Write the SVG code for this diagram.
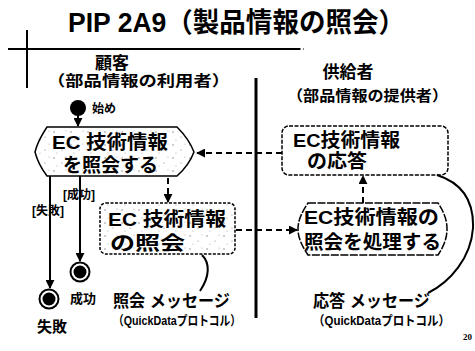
<svg xmlns="http://www.w3.org/2000/svg" width="475" height="351" viewBox="0 0 475 351">
<defs>
<pattern id="speckle" width="17" height="13" patternUnits="userSpaceOnUse">
<rect width="17" height="13" fill="#fff"/>
<circle cx="3" cy="2" r="0.7" fill="#777"/>
<circle cx="11" cy="7" r="0.6" fill="#888"/>
<circle cx="6" cy="10" r="0.5" fill="#999"/>
<circle cx="15" cy="1" r="0.5" fill="#999"/>
</pattern>
<marker id="ah" viewBox="0 0 10 10" refX="9" refY="5" markerWidth="4.5" markerHeight="4.5" orient="auto" markerUnits="strokeWidth">
<path d="M0,0 L10,5 L0,10 Z" fill="#000"/>
</marker>
</defs>
<style>
text{font-family:"Liberation Sans","Noto Sans CJK JP",sans-serif;font-weight:bold;fill:#000}
.dash{fill:none;stroke:#000;stroke-width:2;stroke-dasharray:6 4}
.solid{fill:none;stroke:#000;stroke-width:2}
.node{stroke:#000;stroke-width:1.5}
.t18{font-size:19px}
.t17{font-size:17px}
.t15{font-size:15px}
.t13{font-size:13px}
.t12{font-size:12px}
</style>
<rect width="475" height="351" fill="#fff"/>

<text x="68" y="32" font-size="27" textLength="337" lengthAdjust="spacingAndGlyphs">PIP 2A9（製品情報の照会）</text>
<line x1="8" y1="49" x2="300" y2="49" stroke="#000" stroke-width="2"/>
<line x1="300" y1="49" x2="306" y2="49" stroke="#000" stroke-width="1" stroke-dasharray="1 2"/>
<line x1="27" y1="30" x2="27" y2="88" stroke="#000" stroke-width="2"/>
<line x1="256" y1="78" x2="256" y2="318" stroke="#000" stroke-width="3"/>

<text x="112" y="69" class="t17" text-anchor="middle">顧客</text>
<text x="47" y="86" class="t15" textLength="183" lengthAdjust="spacingAndGlyphs">（部品情報の利用者）</text>
<text x="348" y="78" class="t17" text-anchor="middle">供給者</text>
<text x="287" y="101" class="t15" textLength="161" lengthAdjust="spacingAndGlyphs">（部品情報の提供者）</text>

<g id="start">
<circle cx="78" cy="108" r="8" fill="#000"/>
<text x="92" y="113" class="t12">始め</text>
</g>

<g id="n1">
<path class="node" fill="url(#speckle)" d="M47,127 H177 C186,136 191,144 194,152 C191,160 186,168 177,176 H47 C41,168 37,160 35,152 C37,144 41,136 47,127 Z"/>
<text x="52" y="149" class="t18" textLength="116" lengthAdjust="spacingAndGlyphs">EC 技術情報</text>
<text x="63" y="172" class="t18" textLength="95" lengthAdjust="spacingAndGlyphs">を照会する</text>
</g>

<g id="n2">
<rect class="node" x="100" y="203" width="135" height="51" rx="6" fill="url(#speckle)" stroke-dasharray="3 1.5"/>
<text x="108" y="226" class="t18" textLength="118" lengthAdjust="spacingAndGlyphs">EC 技術情報</text>
<text x="110" y="250" class="t18" textLength="75" lengthAdjust="spacingAndGlyphs">の照会</text>
</g>

<g id="n3">
<rect class="node" x="282" y="126" width="166" height="49" rx="7" fill="#fff" stroke-dasharray="4 1.5"/>
<text x="293" y="147" class="t18" textLength="107" lengthAdjust="spacingAndGlyphs">EC技術情報</text>
<text x="307" y="168" class="t18" textLength="60" lengthAdjust="spacingAndGlyphs">の応答</text>
</g>

<g id="n4">
<path class="node" fill="#fff" stroke-dasharray="8 1.5" d="M308,203 H438 C444,212 447,220 447,229 C447,238 444,246 438,255 H308 C302,246 298,238 298,229 C298,220 302,212 308,203 Z"/>
<text x="304" y="224" class="t18" textLength="135" lengthAdjust="spacingAndGlyphs">EC技術情報の</text>
<text x="304" y="249" class="t18" textLength="137" lengthAdjust="spacingAndGlyphs">照会を処理する</text>
</g>

<g id="success">
<circle cx="80" cy="272" r="9.5" fill="#fff" stroke="#000" stroke-width="2"/>
<circle cx="80" cy="272" r="6.5" fill="#000"/>
</g>
<g id="failure">
<circle cx="49" cy="299" r="9.5" fill="#fff" stroke="#000" stroke-width="2"/>
<circle cx="49" cy="299" r="6.5" fill="#000"/>
</g>
<text x="70" y="303" class="t13">成功</text>
<text x="37" y="332" class="t15">失敗</text>
<text x="63" y="199" class="t12">[成功]</text>
<text x="32" y="215" class="t12">[失敗]</text>

<text x="113" y="307" class="t17" textLength="117" lengthAdjust="spacingAndGlyphs">照会 メッセージ</text>
<text x="113" y="325" class="t13" textLength="128" lengthAdjust="spacingAndGlyphs">（QuickDataプロトコル）</text>
<text x="313" y="307" class="t17" textLength="117" lengthAdjust="spacingAndGlyphs">応答 メッセージ</text>
<text x="313" y="325" class="t13" textLength="137" lengthAdjust="spacingAndGlyphs">（QuickDataプロトコル）</text>
<text x="463" y="340" font-size="9" style="font-family:'Liberation Serif',serif">20</text>

<g id="connectors">
<line class="solid" x1="78" y1="115" x2="78" y2="126" marker-end="url(#ah)"/>
<line class="solid" x1="50" y1="176" x2="50" y2="288" marker-end="url(#ah)"/>
<line class="solid" x1="80" y1="176" x2="80" y2="261" marker-end="url(#ah)"/>
<line class="dash" x1="282" y1="153" x2="197" y2="153" marker-end="url(#ah)"/>
<line class="dash" x1="168" y1="178" x2="168" y2="202" marker-end="url(#ah)"/>
<line class="dash" x1="236" y1="230" x2="297" y2="230" marker-end="url(#ah)"/>
<line class="dash" x1="363" y1="203" x2="363" y2="176" marker-end="url(#ah)"/>
<path class="solid" d="M202,255 C210,263 210,276 200,291"/>
<path class="solid" d="M437,175 C462,183 474,200 473,228 C471,258 450,282 428,293"/>
</g>
</svg>
